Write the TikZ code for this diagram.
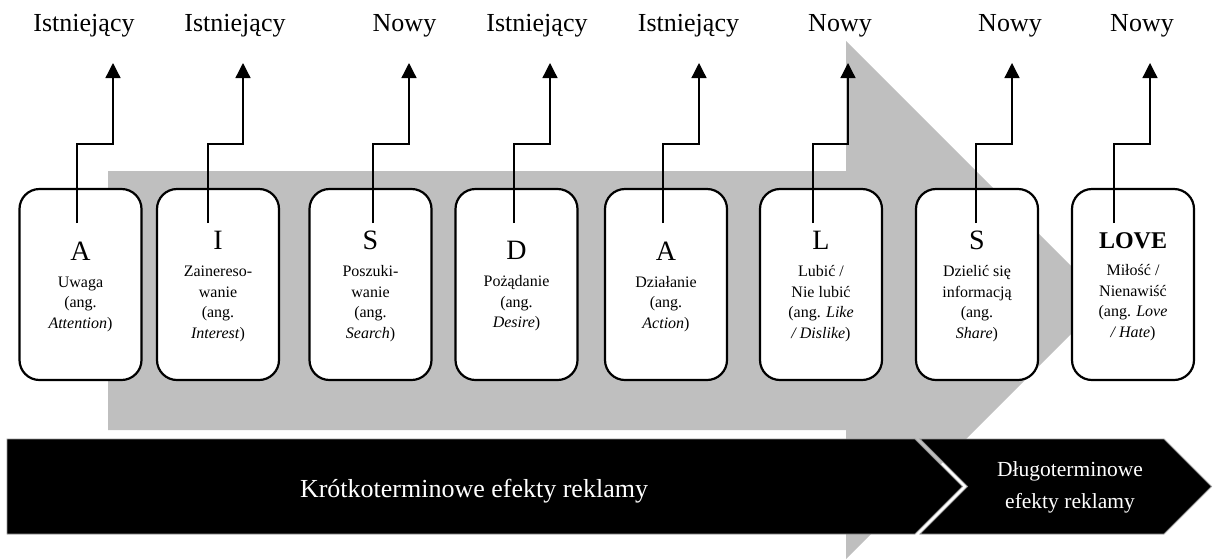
\documentclass[tikz,border=0pt]{standalone}
\usepackage{fontspec}
\setmainfont{Liberation Serif}
\usetikzlibrary{arrows.meta}
\definecolor{flowgray}{RGB}{191,191,191}
\definecolor{edgegray}{RGB}{150,150,150}
\newcommand{\stageletter}[1]{{\fontsize{28}{28}\selectfont #1}\\[6.5pt]}
\newcommand{\stageword}[1]{{\fontsize{24}{24}\selectfont\bfseries #1}\\[6.5pt]}
\begin{document}
\begin{tikzpicture}[x=1pt,y=-1pt,
  stagebox/.style={draw=black, line width=2.2pt, rounded corners=20pt, fill=white,
    minimum width=122pt, minimum height=191pt, inner sep=0pt},
  stagetext/.style={align=center, inner sep=0pt, font=\fontsize{16}{20.5}\selectfont},
  link/.style={line width=1.3pt, -{Triangle[width=15pt,length=15pt]}},
  toplabel/.style={anchor=base, inner sep=0pt, font=\fontsize{26}{30}\selectfont},
  bar/.style={fill=black, draw=edgegray, line width=0.8pt},
]
\useasboundingbox (0,0) rectangle (1213,558);

% broad grey arrow in the background
\fill[flowgray] (108,171) -- (846,171) -- (846,41) -- (1105,300) -- (846,559)
  -- (846,430) -- (108,430) -- cycle;

% black bars along the bottom
\path[bar] (7,439) -- (915,439) -- (962.5,486.5) -- (915,534) -- (7,534) -- cycle;
\path[bar] (920,439) -- (1164,439) -- (1211.5,486.5) -- (1164,534) -- (920,534)
  -- (967.5,486.5) -- cycle;
\node[text=white, font=\fontsize{26}{30}\selectfont, anchor=base] (short) at (474,497)
  {Krótkoterminowe efekty reklamy};
\node[text=white, align=center, font=\fontsize{21.5}{32}\selectfont] (long) at (1070,487)
  {Długoterminowe\\efekty reklamy};

% stage boxes
\foreach \n/\cx in {1/80.5,2/218,3/370.5,4/516.5,5/666,6/821,7/977,8/1133}
  \node[stagebox] (b\n) at (\cx,284.5) {};

\node[stagetext] (t1) at (80.5,286.5) {\stageletter{A}Uwaga\\(ang.\\\textit{Attention})};
\node[stagetext] (t2) at (218,286.5) {\stageletter{I}Zainereso-\\wanie\\(ang.\\\textit{Interest})};
\node[stagetext] (t3) at (370.5,286.5) {\stageletter{S}Poszuki-\\wanie\\(ang.\\\textit{Search})};
\node[stagetext] (t4) at (516.5,286.5) {\stageletter{D}Pożądanie\\(ang.\\\textit{Desire})};
\node[stagetext] (t5) at (666,286.5) {\stageletter{A}Działanie\\(ang.\\\textit{Action})};
\node[stagetext] (t6) at (821,286.5) {\stageletter{L}Lubić /\\Nie lubić\\(ang. \textit{Like}\\\textit{/ Dislike})};
\node[stagetext] (t7) at (977,286.5) {\stageletter{S}Dzielić się\\informacją\\(ang.\\\textit{Share})};
\node[stagetext] (t8) at (1133,286.5) {\stageword{LOVE}Miłość /\\Nienawiść\\(ang. \textit{Love}\\\textit{/ Hate})};

% labels above the stages
\node[toplabel] (l1) at (84,31) {Istniejący};
\node[toplabel] (l2) at (235,31) {Istniejący};
\node[toplabel] (l3) at (404.5,31) {Nowy};
\node[toplabel] (l4) at (537,31) {Istniejący};
\node[toplabel] (l5) at (688.5,31) {Istniejący};
\node[toplabel] (l6) at (840,31) {Nowy};
\node[toplabel] (l7) at (1010,31) {Nowy};
\node[toplabel] (l8) at (1142,31) {Nowy};

% stepped links from each stage up towards its label
\foreach \n/\sx/\tx in {1/77/113,2/208/243,3/373/409,4/514/550,5/663/699,6/813/848,7/976/1012,8/1114/1150}{
  \coordinate (s\n) at (\sx,223);
  \coordinate (k\n) at (\tx,144);
  \coordinate (e\n) at (\tx,63);
  \draw[link] (s\n) |- (k\n) -- (e\n);
}
\end{tikzpicture}
\end{document}
